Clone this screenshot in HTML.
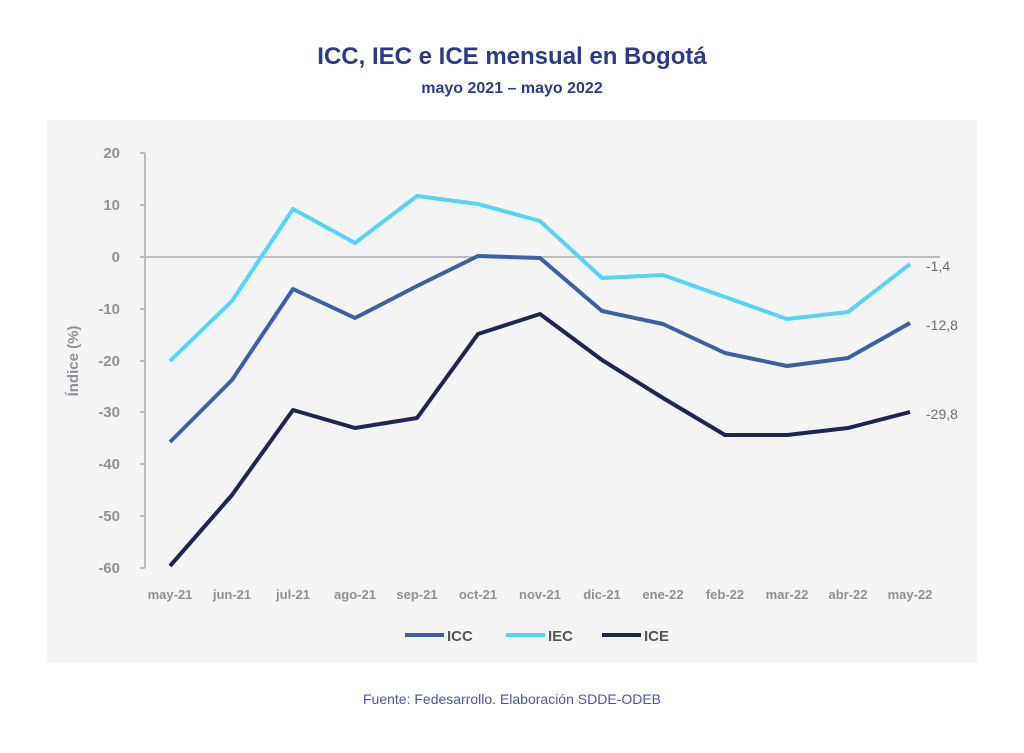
<!DOCTYPE html><html><head><meta charset="utf-8"><style>body{margin:0;background:#fff;width:1024px;height:748px;overflow:hidden;font-family:"Liberation Sans",sans-serif}</style></head><body>
<svg width="1024" height="748" xmlns="http://www.w3.org/2000/svg" font-family="Liberation Sans, sans-serif">
<text x="512" y="64" text-anchor="middle" font-size="24" font-weight="bold" fill="#2e3a87">ICC, IEC e ICE mensual en Bogotá</text>
<text x="512" y="93" text-anchor="middle" font-size="16" font-weight="bold" fill="#2e3a87">mayo 2021 – mayo 2022</text>
<rect x="47" y="120" width="930" height="543" fill="#f4f4f4"/>
<g stroke="#a6aab0" stroke-width="1.5">
<line x1="145" y1="153" x2="145" y2="568"/>
<line x1="140" y1="153" x2="145" y2="153"/><line x1="140" y1="205" x2="145" y2="205"/><line x1="140" y1="257" x2="145" y2="257"/><line x1="140" y1="309" x2="145" y2="309"/><line x1="140" y1="361" x2="145" y2="361"/><line x1="140" y1="412" x2="145" y2="412"/><line x1="140" y1="464" x2="145" y2="464"/><line x1="140" y1="516" x2="145" y2="516"/><line x1="140" y1="568" x2="145" y2="568"/>
<line x1="145" y1="257" x2="940" y2="257"/>
</g>
<g font-size="15" fill="#8e9198" text-anchor="end" font-weight="bold">
<text x="120" y="158">20</text><text x="120" y="210">10</text><text x="120" y="262">0</text><text x="120" y="314">-10</text><text x="120" y="366">-20</text><text x="120" y="417">-30</text><text x="120" y="469">-40</text><text x="120" y="521">-50</text><text x="120" y="573">-60</text>
</g>
<text transform="translate(78,361) rotate(-90)" text-anchor="middle" font-size="15" fill="#8e9198" font-weight="bold">Índice (%)</text>
<g font-size="13" fill="#8e9198" text-anchor="middle" font-weight="bold">
<text x="170" y="599">may-21</text><text x="232" y="599">jun-21</text><text x="293" y="599">jul-21</text><text x="355" y="599">ago-21</text><text x="417" y="599">sep-21</text><text x="478" y="599">oct-21</text><text x="540" y="599">nov-21</text><text x="602" y="599">dic-21</text><text x="663" y="599">ene-22</text><text x="725" y="599">feb-22</text><text x="787" y="599">mar-22</text><text x="848" y="599">abr-22</text><text x="910" y="599">may-22</text>
</g>
<g fill="none" stroke-width="4" stroke-linejoin="round">
<polyline stroke="#55d4fa" points="170,361 232,301 293,209 355,243 417,196 478,204 540,221 602,278 663,275 725,297 787,319 848,312 910,264"/>
<polyline stroke="#3d5fa8" points="170,442 232,380 293,289 355,318 417,286 478,256 540,258 602,311 663,324 725,353 787,366 848,358 910,323"/>
<polyline stroke="#1d2550" points="170,566 232,495 293,410 355,428 417,418 478,334 540,314 602,360 663,398 725,435 787,435 848,428 910,412"/>
</g>
<g font-size="14" fill="#6b6e75">
<text x="926" y="271">-1,4</text><text x="926" y="330">-12,8</text><text x="926" y="419">-29,8</text>
</g>
<g stroke-width="4"><line x1="405" y1="635" x2="444" y2="635" stroke="#3d5fa8"/><line x1="506" y1="635" x2="545" y2="635" stroke="#55d4fa"/><line x1="602" y1="635" x2="641" y2="635" stroke="#1d2550"/></g>
<g font-size="15" fill="#555" font-weight="bold"><text x="447" y="641">ICC</text><text x="548" y="641">IEC</text><text x="644" y="641">ICE</text></g>
<text x="512" y="704" text-anchor="middle" font-size="14" fill="#4b56a0">Fuente: Fedesarrollo. Elaboración SDDE-ODEB</text>
</svg></body></html>
